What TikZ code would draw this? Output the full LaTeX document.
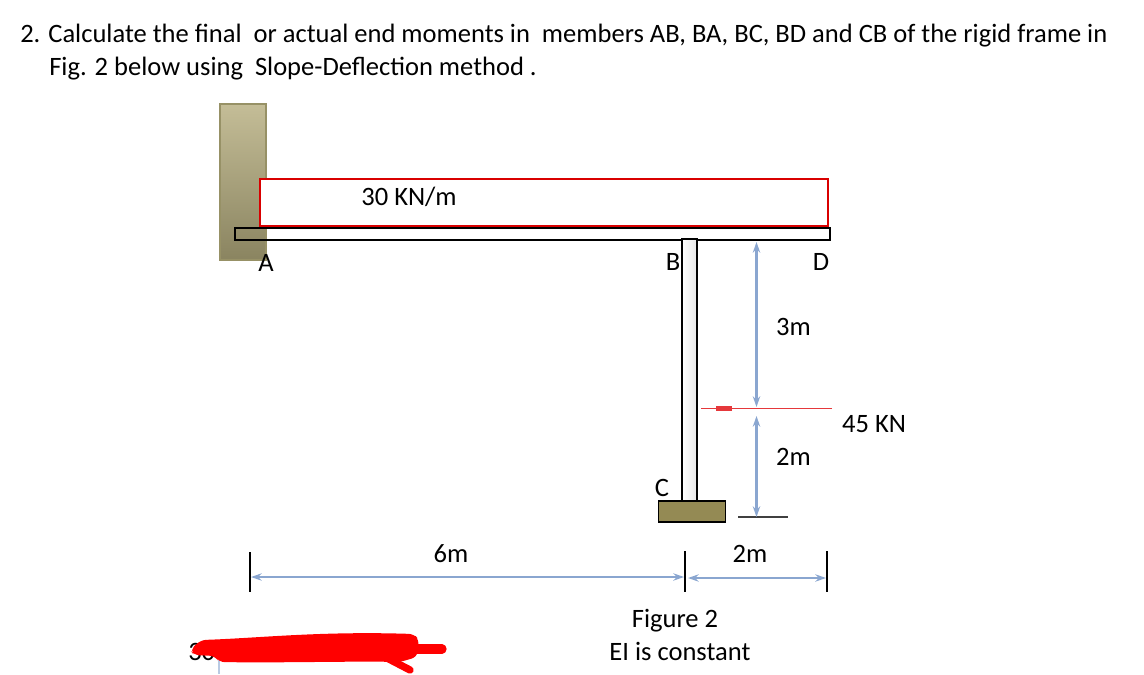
\documentclass[tikz,border=0pt]{standalone}
\usepackage{fontspec}
\setmainfont{Carlito}
\usetikzlibrary{shapes.geometric, arrows, arrows.meta, positioning, fit, calc}

\begin{document}
\begin{tikzpicture}[x=0.75pt, y=-0.75pt, node distance=0.81cm]

        \definecolor{wallTop}{HTML}{C4BD97}
        \definecolor{wallBot}{HTML}{8A8460}
        \definecolor{wallEdge}{HTML}{979166}
        \definecolor{footcol}{HTML}{948A54}
        \definecolor{dimcol}{HTML}{8AA6D0}
        \definecolor{redline}{HTML}{E5383B}

        % Define styles for each type of node
        \tikzstyle{wall} = [rectangle, minimum width=34.5pt, minimum height=117pt, inner sep=0pt, draw=wallEdge, line width=0.9pt, top color=wallTop, bottom color=wallBot]
        \tikzstyle{beam} = [rectangle, minimum width=446pt, minimum height=9pt, inner sep=0pt, draw=black, line width=1.3pt]
        \tikzstyle{post} = [rectangle, minimum width=11pt, minimum height=196pt, inner sep=0pt, draw=black, line width=1.3pt, left color=white, right color=gray!20]
        \tikzstyle{footing} = [rectangle, minimum width=50.5pt, minimum height=15.5pt, inner sep=0pt, draw=black, line width=1.1pt, fill=footcol]
        \tikzstyle{load} = [rectangle, minimum width=426pt, minimum height=35pt, inner sep=0pt, draw=red!85!black, line width=1.2pt, fill=white]
        \tikzstyle{tag} = [inner sep=0pt, font=\fontsize{19.9pt}{23pt}\selectfont]

        % Define arrow style
        \tikzstyle{dimarrow} = [draw=dimcol, line width=1.6pt, {Stealth[length=8pt,width=5.5pt]}-{Stealth[length=8pt,width=5.5pt]}]
        \tikzstyle{tick} = [draw=black, line width=1.3pt]
        \tikzstyle{redarrow} = [draw=redline, line width=1.4pt]
        \tikzstyle{scrawl} = [draw=red, line cap=round]

        \useasboundingbox (0,0) rectangle (1144,674);

        % Question text
        \node (lineOne) [tag, anchor=base west] at (20,43) {2. Calculate the final~ or actual end moments in~ members AB, BA, BC, BD and CB of the rigid frame in};
        \node (lineTwo) [tag, anchor=base west] at (49,75.5) {Fig. 2 below using~ Slope-Deflection method .};

        % Frame
        \node (wallA) [wall] at (243,182) {};
        \node (beamAD) [beam] at (532.5,234) {};
        \node (loadBox) [load] at (544,202.5) {};
        \node (postBC) [post] at (689.5,370) {};
        \node (footC) [footing] at (692,511.5) {};
        \coordinate (groundL) at (738,517);
        \coordinate (groundR) at (788,517);
        \draw [draw=black!75, line width=1.4pt] (groundL) -- (groundR);

        % Joint letters
        \node (jointA) [tag] at (266,263) {A};
        \node (jointB) [tag] at (673,262) {B};
        \node (jointD) [tag] at (821,262) {D};
        \node (jointC) [tag] at (662,488) {C};

        % Loads and lengths
        \node (udlText) [tag] at (409,197) {30 KN/m};
        \node (pointText) [tag] at (874,424) {45 KN};
        \node (upperText) [tag] at (793.5,327) {3m};
        \node (lowerText) [tag] at (793.5,457) {2m};
        \node (spanLeft) [tag] at (451,554) {6m};
        \node (spanRight) [tag] at (750,554) {2m};

        % Caption
        \node (figText) [tag] at (675,621) {Figure 2};
        \node (eiText) [tag, below of=figText, xshift=3.7pt] {EI is constant};

        % Vertical dimensions
        \coordinate (upperTop) at (756.5,242);
        \coordinate (upperBot) at (756.5,407);
        \coordinate (lowerTop) at (756.5,416);
        \coordinate (lowerBot) at (756.5,517);
        \draw [dimarrow] (upperTop) -- (upperBot);
        \draw [dimarrow] (lowerTop) -- (lowerBot);

        % Point load
        \coordinate (pointTail) at (832,408.5);
        \coordinate (pointHead) at (701,408.5);
        \coordinate (headBack) at (732,408.5);
        \coordinate (headFront) at (716,408.5);
        \draw [redarrow] (pointTail) -- (pointHead);
        \draw [redarrow, line width=3.5pt] (headBack) -- (headFront);

        % Horizontal dimensions
        \coordinate (tickAtop) at (250,552);
        \coordinate (tickAbot) at (250,592);
        \coordinate (tickBtop) at (685,551);
        \coordinate (tickBbot) at (685,592);
        \coordinate (tickCtop) at (827,551);
        \coordinate (tickCbot) at (827,592);
        \draw [tick] (tickAtop) -- (tickAbot);
        \draw [tick] (tickBtop) -- (tickBbot);
        \draw [tick] (tickCtop) -- (tickCbot);
        \coordinate (spanA) at (251,577);
        \coordinate (spanB) at (684,577);
        \coordinate (spanBb) at (688,578);
        \coordinate (spanC) at (826,578);
        \draw [dimarrow] (spanA) -- (spanB);
        \draw [dimarrow] (spanBb) -- (spanC);

        % Scribbled out line
        \node (hiddenText) [tag, anchor=base west] at (188,660) {30};
        \coordinate (stubTop) at (219,660);
        \coordinate (stubBot) at (219,674);
        \draw [draw=dimcol!60, line width=1pt] (stubTop) -- (stubBot);
        \fill [red, rounded corners=4pt] (201,640) .. controls (260,638) and (320,631) .. (414,634) -- (419,640) -- (417,657) -- (400,662) .. controls (350,661) and (280,663) .. (219,662) -- (215,656) -- (194,655) -- (190,650) -- cycle;
        \coordinate (fingerA) at (412,649);
        \coordinate (fingerB) at (442,649);
        \coordinate (fingerC) at (385,657);
        \coordinate (fingerD) at (410,670);
        \draw [scrawl, line width=7pt] (fingerA) -- (fingerB);
        \draw [scrawl, line width=5.5pt] (fingerC) -- (fingerD);

\end{tikzpicture}
\end{document}
